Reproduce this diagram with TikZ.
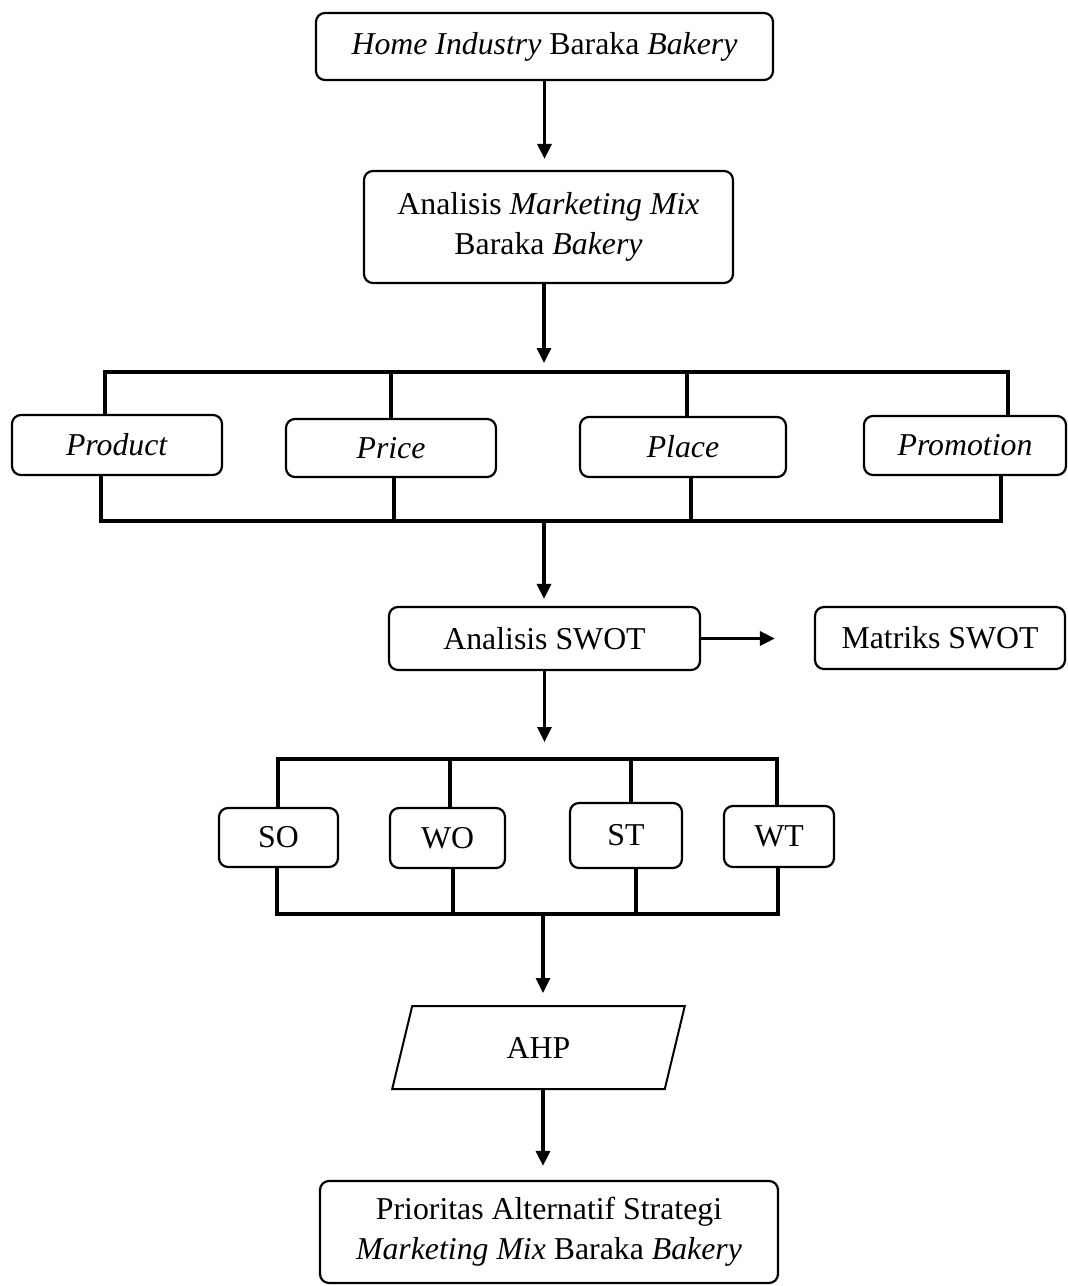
\documentclass[tikz,border=0pt]{standalone}
\usepackage{fontspec}
\setmainfont{Liberation Serif}
\usetikzlibrary{positioning,arrows.meta,shapes.geometric}

\begin{document}
\begin{tikzpicture}[x=0.5pt, y=-0.5pt, font=\fontsize{15.9}{20}\selectfont,
  box/.style={draw, rounded corners=4.5pt, line width=1.1pt, align=center, inner sep=0pt},
  io/.style={draw, trapezium, trapezium left angle=76.5, trapezium right angle=103.5,
    trapezium stretches=true, line width=1pt, inner sep=0pt},
  bus/.style={line width=1.6pt, line join=miter},
  arr/.style={line width=1.6pt, -{Triangle[length=7.5pt, width=7pt]}}]
\useasboundingbox (0,0) rectangle (1068,1286);
% main column
\node[box, minimum width=228.5pt, minimum height=33.5pt] (home) at (544.5,46.5)
  {\textit{Home Industry} Baraka \textit{Bakery}};
\node[box, minimum width=184.5pt, minimum height=56pt] (mix) at (548.5,227)
  {Analisis \textit{Marketing Mix}\\Baraka \textit{Bakery}};
% the four P
\node[box, minimum width=105pt, minimum height=30pt] (prod) at (117,445) {\textit{Product}};
\node[box, minimum width=105pt, minimum height=29pt] (price) at (391,448) {\textit{Price}};
\node[box, minimum width=103pt, minimum height=30pt] (place) at (683,447) {\textit{Place}};
\node[box, minimum width=101pt, minimum height=29.5pt] (promo) at (965,445.5) {\textit{Promotion}};
% swot
\node[box, minimum width=155.5pt, minimum height=31.5pt] (swot) at (544.5,638.5) {Analisis SWOT};
\node[box, minimum width=125pt, minimum height=31pt] (matrix) at (940,638) {Matriks SWOT};
% strategies
\node[box, minimum width=59.5pt, minimum height=29.5pt] (so) at (278.5,837.5) {SO};
\node[box, minimum width=57.5pt, minimum height=30pt] (wo) at (447.5,838) {WO};
\node[box, minimum width=56pt, minimum height=32.5pt] (st) at (626,835.5) {ST};
\node[box, minimum width=55pt, minimum height=30.5pt] (wt) at (779,836.5) {WT};
% ahp and result
\node[io, minimum width=146.5pt, minimum height=41.5pt] (ahp) at (538.5,1047.5) {AHP};
\node[box, minimum width=229pt, minimum height=51pt] (prio) at (549,1232)
  {Prioritas Alternatif Strategi\\\textit{Marketing Mix} Baraka \textit{Bakery}};
% bus lines
\coordinate (bin1) at (544,372);
\coordinate (bout1) at (544,521);
\coordinate (bin2) at (543,759);
\coordinate (bout2) at (543,914);
\foreach \x/\n [count=\i] in {105/prod,391/price,687/place,1008/promo}
  \coordinate (ta\i) at (\x,372);
\foreach \x/\n [count=\i] in {101/prod,394/price,691/place,1001/promo}
  \coordinate (tb\i) at (\x,521);
\foreach \x/\n [count=\i] in {278/so,450/wo,631/st,777/wt}
  \coordinate (sa\i) at (\x,759);
\foreach \x/\n [count=\i] in {277/so,453/wo,636/st,778/wt}
  \coordinate (sb\i) at (\x,914);
\draw[bus] (ta1 |- prod.north) -- (ta1) -- (ta4) -- (ta4 |- promo.north);
\draw[bus] (ta2) -- (ta2 |- price.north) (ta3) -- (ta3 |- place.north);
\draw[bus] (tb1 |- prod.south) -- (tb1) -- (tb4) -- (tb4 |- promo.south);
\draw[bus] (tb2) -- (tb2 |- price.south) (tb3) -- (tb3 |- place.south);
\draw[bus] (sa1 |- so.north) -- (sa1) -- (sa4) -- (sa4 |- wt.north);
\draw[bus] (sa2) -- (sa2 |- wo.north) (sa3) -- (sa3 |- st.north);
\draw[bus] (sb1 |- so.south) -- (sb1) -- (sb4) -- (sb4 |- wt.south);
\draw[bus] (sb2) -- (sb2 |- wo.south) (sb3) -- (sb3 |- st.south);
% arrows
\draw[arr, shorten >=5.5pt] (home.south) -- (home.south |- mix.north);
\draw[arr, shorten >=4.5pt] (bin1 |- mix.south) -- (bin1);
\draw[arr, shorten >=3.5pt] (bout1) -- (bout1 |- swot.north);
\draw[arr, shorten >=19.5pt] (swot.east) -- (swot.east -| matrix.west);
\draw[arr, shorten >=8.5pt] (swot.south) -- (swot.south |- bin2);
\draw[arr, shorten >=6pt] (bout2) -- (bout2 |- ahp.north);
\draw[arr, shorten >=7pt] (bout2 |- ahp.south) -- (bout2 |- prio.north);
\end{tikzpicture}
\end{document}
